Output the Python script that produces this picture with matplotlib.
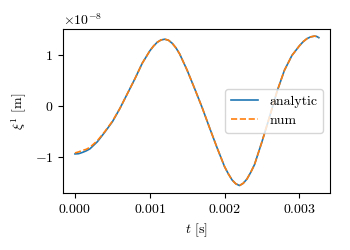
import numpy as np
import matplotlib
matplotlib.use("Agg")
import matplotlib.pyplot as plt

plt.rcParams.update({
    "font.family": "serif",
    "font.serif": ["cmr10"],
    "mathtext.fontset": "cm",
    "axes.formatter.use_mathtext": True,
    "font.size": 10,
})

# time [ms] and displacement [1e-8 m]
t_ms = [0.0, 0.05, 0.1, 0.15, 0.2, 0.3, 0.4, 0.5, 0.6, 0.7, 0.8, 0.9,
        1.0, 1.05, 1.1, 1.15, 1.2, 1.25, 1.3, 1.35, 1.4, 1.5, 1.6, 1.7, 1.8, 1.9,
        2.0, 2.05, 2.1, 2.15, 2.2, 2.25, 2.3, 2.35, 2.4, 2.5, 2.6, 2.7, 2.8, 2.9,
        3.0, 3.05, 3.1, 3.15, 3.2, 3.23, 3.26]
xi_analytic = [-0.94, -0.935, -0.91, -0.88, -0.84, -0.70, -0.51, -0.31, -0.05, 0.24, 0.53, 0.84,
               1.08, 1.175, 1.25, 1.295, 1.31, 1.29, 1.23, 1.14, 1.02, 0.70, 0.34, -0.03, -0.43, -0.82,
               -1.19, -1.33, -1.45, -1.525, -1.56, -1.515, -1.43, -1.30, -1.15, -0.70, -0.22, 0.28, 0.70, 0.99,
               1.18, 1.26, 1.32, 1.355, 1.37, 1.365, 1.34]
xi_num = [-0.92, -0.90, -0.87, -0.85, -0.81, -0.68, -0.50, -0.30, -0.05, 0.24, 0.53, 0.84,
          1.08, 1.175, 1.25, 1.295, 1.31, 1.29, 1.23, 1.14, 1.02, 0.70, 0.34, -0.03, -0.43, -0.82,
          -1.19, -1.33, -1.45, -1.525, -1.56, -1.515, -1.43, -1.30, -1.15, -0.70, -0.22, 0.28, 0.70, 0.99,
          1.18, 1.26, 1.32, 1.355, 1.37, 1.365, 1.34]

t = np.array(t_ms) * 1e-3

fig = plt.figure(figsize=(3.5, 2.5), dpi=100)
ax = fig.add_axes([0.18, 0.228, 0.763, 0.656])

ax.plot(t, np.array(xi_analytic) * 1e-8, color="#1f77b4", lw=1.2, label="analytic")
ax.plot(t, np.array(xi_num) * 1e-8, color="#ff7f0e", lw=1.2, ls="--", label="num")

ax.set_xlim(-0.00016, 0.00341)
ax.set_ylim(-1.706e-8, 1.51e-8)
ax.set_xticks([0.0, 0.001, 0.002, 0.003])
ax.set_yticks([-1e-8, 0, 1e-8])
ax.set_xlabel(r"$t$ [s]")
ax.set_ylabel(r"$\xi^1$ [m]")
ax.legend(loc="center right")

fig.savefig("out.png", dpi=100)
